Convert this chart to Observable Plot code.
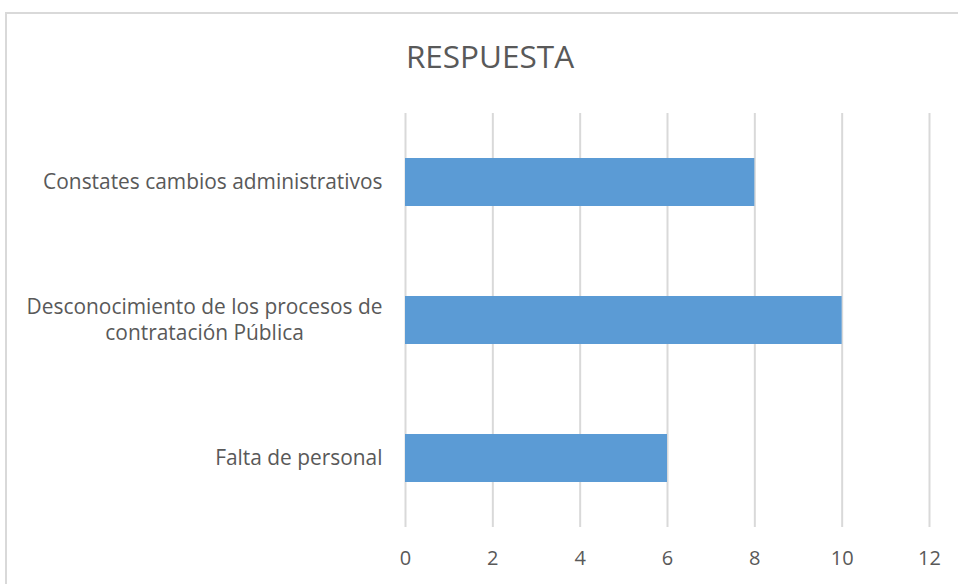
<!DOCTYPE html>
<html>
<head>
<meta charset="utf-8">
<script src="https://cdn.jsdelivr.net/npm/d3@7"></script>
<script src="https://cdn.jsdelivr.net/npm/@observablehq/plot@0.6"></script>
<style>
  html, body { margin: 0; padding: 0; background: #fff; }
  #wrap { position: relative; width: 958px; height: 584px; overflow: hidden; font-family: "Open Sans", sans-serif; }
  #frame { position: absolute; left: 5px; top: 12px; width: 980px; height: 600px; border: 2px solid #D9D9D9; box-sizing: border-box; }
  #title { position: absolute; left: 0; top: 34px; width: 980px; text-align: center; font-size: 31.5px; color: #595959; }
  #chart { position: absolute; left: 0; top: 0; }
</style>
</head>
<body>
<div id="wrap">
  <div id="frame"></div>
  <div id="title">RESPUESTA</div>
  <div id="chart"></div>
</div>
<script>
const categories = [
  "Constates cambios administrativos",
  "Desconocimiento de los procesos de\ncontratación Pública",
  "Falta de personal"
];
const values = [8, 10, 6];
const xTicks = [0, 2, 4, 6, 8, 10, 12];

const data = categories.map((c, i) => ({category: c, value: values[i]}));

const fontSize = 20.9;
const fontFamily = "Open Sans, sans-serif";
const ctx = document.createElement("canvas").getContext("2d");
ctx.font = `${fontSize}px ${fontFamily}`;
const labelWidth = s => Math.max(...s.split("\n").map(l => ctx.measureText(l).width));

const labelMarks = data.map(d => Plot.text([d], {
  x: 0, y: "category", text: "category",
  textAnchor: "middle", dx: -23 - labelWidth(d.category) / 2, dy: -2,
  fill: "#595959", fontSize, lineHeight: 1.28
}));

const chart = Plot.plot({
  width: 958,
  height: 584,
  marginTop: 113,
  marginBottom: 57,
  marginLeft: 405,
  marginRight: 29,
  style: {fontFamily, fontSize: "20px", color: "#595959", background: "transparent"},
  x: {domain: [0, 12], ticks: xTicks, label: null},
  y: {domain: categories, paddingInner: 0.65, paddingOuter: 0.325, label: null},
  marks: [
    Plot.gridX(xTicks, {stroke: "#D9D9D9", strokeOpacity: 1, strokeWidth: 2}),
    Plot.barX(data, {x: "value", y: "category", fill: "#5B9BD5"}),
    Plot.axisX({ticks: xTicks, tickSize: 0, tickPadding: 23, fill: "#595959", fontSize: 20, label: null}),
    Plot.axisY({tickSize: 0, tickFormat: () => "", label: null}),
    ...labelMarks
  ]
});
document.getElementById("chart").appendChild(chart);
</script>
</body>
</html>
